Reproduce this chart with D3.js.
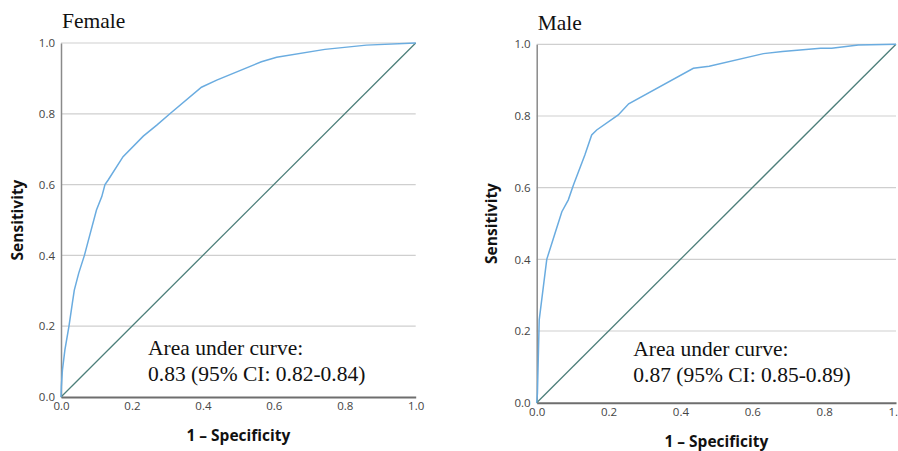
<!DOCTYPE html>
<style>
body { margin: 0; background: #fff; }
.tick text { font-family: "Open Sans", sans-serif; font-size: 11.5px; fill: #444; }
.title, .auc { font-family: "Liberation Serif", serif; fill: #111; }
.axtitle { font-family: "Open Sans", sans-serif; font-weight: bold; font-size: 15.5px; fill: #111; }
</style>
<svg id="roc" width="898" height="451"></svg>
<script src="https://d3js.org/d3.v7.min.js"></script>
<script>

var ticks = [0, 0.2, 0.4, 0.6, 0.8, 1.0];

// Female ROC curve (1 - specificity, sensitivity)
var femaleFpr = [0, 0.001, 0.004, 0.011, 0.0225, 0.032, 0.0375, 0.05, 0.066, 0.08, 0.10, 0.115, 0.124, 0.133, 0.175, 0.232, 0.27, 0.307, 0.396, 0.439, 0.565, 0.608, 0.744, 0.861, 1];
var femaleTpr = [0, 0.03, 0.076, 0.133, 0.2, 0.265, 0.302, 0.35, 0.40, 0.453, 0.528, 0.566, 0.60, 0.613, 0.679, 0.737, 0.768, 0.80, 0.875, 0.895, 0.947, 0.96, 0.982, 0.994, 1];

// Male ROC curve
var maleFpr = [0, 0.002, 0.007, 0.028, 0.051, 0.07, 0.088, 0.102, 0.134, 0.153, 0.167, 0.227, 0.256, 0.436, 0.48, 0.631, 0.684, 0.79, 0.821, 0.895, 1];
var maleTpr = [0, 0.026, 0.231, 0.40, 0.473, 0.533, 0.566, 0.607, 0.691, 0.747, 0.761, 0.803, 0.834, 0.933, 0.939, 0.974, 0.98, 0.989, 0.989, 0.998, 1];

var panels = [
  {title: "Female", fpr: femaleFpr, tpr: femaleTpr,
   auc: ["Area under curve:", "0.83 (95% CI: 0.82-0.84)"],
   left: 61, right: 415.7, top: 43, bottom: 397,
   titleY: 28.3, aucX: 148, aucY: 355, xTitleY: 441, yTitleX: 23},
  {title: "Male", fpr: maleFpr, tpr: maleTpr,
   auc: ["Area under curve:", "0.87 (95% CI: 0.85-0.89)"],
   left: 536.7, right: 896, top: 44.3, bottom: 402.7,
   titleY: 30, aucX: 633.3, aucY: 355.5, xTitleY: 447, yTitleX: 497}
];

var svg = d3.select("#roc");

panels.forEach(function(p) {
  var x = d3.scaleLinear().domain([0, 1]).range([p.left, p.right]);
  var y = d3.scaleLinear().domain([0, 1]).range([p.bottom, p.top]);
  var g = svg.append("g");

  // grid lines
  g.selectAll("line.grid")
    .data(ticks.slice(1))
    .enter().append("line")
      .attr("class", "grid")
      .attr("x1", x(0)).attr("x2", x(1))
      .attr("y1", function(d) { return y(d); })
      .attr("y2", function(d) { return y(d); })
      .attr("stroke", "#cfcfcf")
      .attr("stroke-width", 1.2);

  var yAxis = g.append("g")
      .attr("transform", "translate(" + x(0) + ",0)")
      .call(d3.axisLeft(y).tickValues(ticks).tickFormat(d3.format(".1f")).tickSize(0).tickPadding(6));
  yAxis.select(".domain").attr("stroke", "#8a8a8a").attr("stroke-width", 1.5);

  var xAxis = g.append("g")
      .attr("transform", "translate(0," + y(0) + ")")
      .call(d3.axisBottom(x).tickValues(ticks).tickFormat(d3.format(".1f")).tickSize(0).tickPadding(5));
  xAxis.select(".domain").attr("stroke", "#6e6e6e").attr("stroke-width", 2);

  // reference diagonal
  g.append("line")
    .attr("x1", x(0)).attr("y1", y(0))
    .attr("x2", x(1)).attr("y2", y(1))
    .attr("stroke", "#4d7f7a")
    .attr("stroke-width", 1.3);

  var line = d3.line()
    .x(function(d, i) { return x(p.fpr[i]); })
    .y(function(d, i) { return y(p.tpr[i]); });

  g.append("path")
    .datum(p.fpr)
    .attr("d", line)
    .attr("fill", "none")
    .attr("stroke", "#6aace0")
    .attr("stroke-width", 1.5);

  g.append("text")
    .attr("class", "title")
    .attr("x", p.left + 1)
    .attr("y", p.titleY)
    .attr("font-size", 21.5)
    .text(p.title);

  g.append("text")
    .attr("class", "auc")
    .attr("font-size", 21.5)
    .selectAll("tspan")
    .data(p.auc)
    .enter().append("tspan")
      .attr("x", p.aucX)
      .attr("y", function(d, i) { return p.aucY + i * 26.3; })
      .text(function(d) { return d; });

  g.append("text")
    .attr("class", "axtitle")
    .attr("x", (p.left + p.right) / 2)
    .attr("y", p.xTitleY)
    .attr("text-anchor", "middle")
    .text("1 \u2013 Specificity");

  g.append("text")
    .attr("class", "axtitle")
    .attr("transform", "translate(" + p.yTitleX + "," + (p.top + p.bottom) / 2 + ") rotate(-90)")
    .attr("text-anchor", "middle")
    .text("Sensitivity");
});

</script>
